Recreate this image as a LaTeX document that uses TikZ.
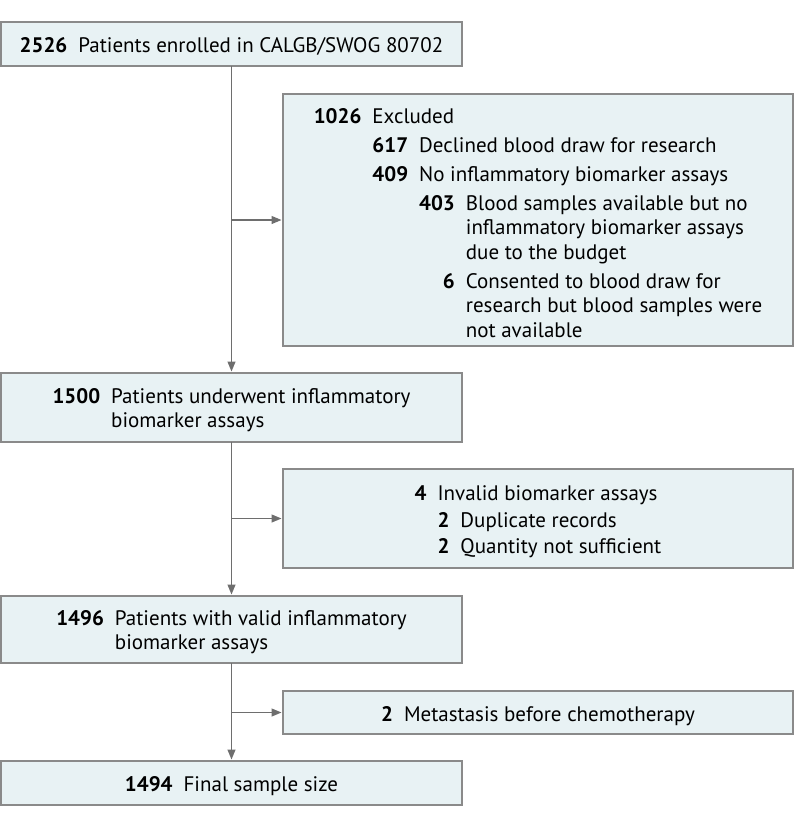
\documentclass[tikz,border=0pt]{standalone}
\usepackage{fontspec}
\setmainfont{PT Sans}
\usetikzlibrary{arrows.meta}
\definecolor{boxfill}{HTML}{E8F2F4}
\definecolor{boxline}{HTML}{8A8A8A}
\definecolor{arrowc}{HTML}{6E6E6E}
\newcommand\cgap{\hspace{11pt}}
\newcommand\lowered[2]{\raisebox{-#1}[\height][\depth]{#2}}
\begin{document}
\begin{tikzpicture}[x=1pt,y=-1pt,
  font=\fontsize{21}{24.5}\selectfont,
  box/.style={draw=boxline, fill=boxfill, line width=1.3pt, inner sep=0pt, outer sep=0pt},
  conn/.style={draw=arrowc, line width=1.2pt, -{Triangle[length=10pt,width=8pt]}, shorten >=1.5pt}]
\useasboundingbox (0,0) rectangle (794,825);

% main column boxes
\node[box, minimum width=461pt, minimum height=44pt] (b1) at (231.5,44)
  {\lowered{4pt}{\begin{tabular}{@{}r@{\cgap}l@{}}\textbf{2526} & Patients enrolled in CALGB/SWOG 80702\end{tabular}}};
\node[box, minimum width=461pt, minimum height=69pt] (b2) at (231.5,407.5)
  {\lowered{3pt}{\begin{tabular}{@{}r@{\cgap}l@{}}\textbf{1500} & Patients underwent inflammatory\\ & biomarker assays\end{tabular}}};
\node[box, minimum width=461pt, minimum height=67pt] (b3) at (231.5,629.5)
  {\lowered{3pt}{\begin{tabular}{@{}r@{\cgap}l@{}}\textbf{1496} & Patients with valid inflammatory\\ & biomarker assays\end{tabular}}};
\node[box, minimum width=461pt, minimum height=44pt] (b4) at (231.5,783)
  {\lowered{4pt}{\begin{tabular}{@{}r@{\cgap}l@{}}\textbf{1494} & Final sample size\end{tabular}}};

% side boxes
\node[box, minimum width=510pt, minimum height=252pt] (ex1) at (538,220)
  {\lowered{5.5pt}{\begin{tabular}{@{}r@{\cgap}l@{\cgap}r@{\cgap}l@{}}
   \textbf{1026} & \multicolumn{3}{@{}l@{}}{Excluded}\\[4.5pt]
   & \textbf{617} & \multicolumn{2}{@{}l@{}}{Declined blood draw for research}\\[4.5pt]
   & \textbf{409} & \multicolumn{2}{@{}l@{}}{No inflammatory biomarker assays}\\[4.5pt]
   & & \textbf{403} & Blood samples available but no\\
   & & & inflammatory biomarker assays\\
   & & & due to the budget\\[4.5pt]
   & & \textbf{6} & Consented to blood draw for\\
   & & & research but blood samples were\\
   & & & not available
  \end{tabular}}};
\node[box, minimum width=510pt, minimum height=99pt] (ex2) at (538,518.5)
  {\lowered{4pt}{\begin{tabular}{@{}r@{\cgap}r@{\cgap}l@{}}
   \textbf{4} & \multicolumn{2}{@{}l@{}}{Invalid biomarker assays}\\[2pt]
   & \textbf{2} & Duplicate records\\[2pt]
   & \textbf{2} & Quantity not sufficient
  \end{tabular}}};
\node[box, minimum width=510pt, minimum height=43pt] (ex3) at (538,712.5)
  {\lowered{4pt}{\begin{tabular}{@{}r@{\cgap}l@{}}\textbf{2} & Metastasis before chemotherapy\end{tabular}}};

% connectors
\draw[conn] (b1.south) -- (b2.north);
\draw[conn] (b2.south) -- (b3.north);
\draw[conn] (b3.south) -- (b4.north);
\coordinate (j1) at (b1.south |- ex1.west);
\coordinate (j2) at (b2.south |- ex2.west);
\coordinate (j3) at (b3.south |- ex3.west);
\draw[conn] (j1) -- (ex1.west);
\draw[conn] (j2) -- (ex2.west);
\draw[conn] (j3) -- (ex3.west);
\end{tikzpicture}
\end{document}
